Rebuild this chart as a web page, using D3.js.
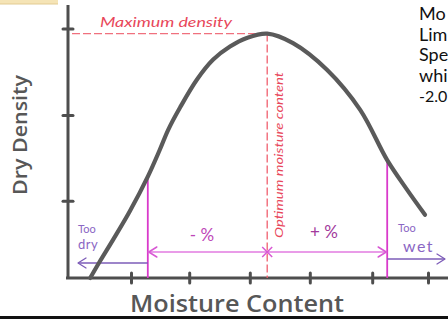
<!DOCTYPE html>
<html>
<head>
<meta charset="utf-8">
<script src="https://cdn.jsdelivr.net/npm/d3@7"></script>
<style>
  html, body { margin: 0; padding: 0; background: #fff; }
  svg { display: block; }
</style>
</head>
<body>
<svg id="chart" width="448" height="320"></svg>
<script>
// Compaction curve: dry density against moisture content (arbitrary units)
const moisture   = [0.37, 0.53, 0.75, 1.03, 1.33, 1.53, 1.67, 1.87, 2.15, 2.42, 2.70, 2.98, 3.32, 3.75, 4.32, 4.87, 5.32, 5.65, 5.95];
const dryDensity = [0.00, 0.19, 0.44, 0.77, 1.17, 1.48, 1.71, 1.97, 2.29, 2.52, 2.67, 2.77, 2.82, 2.71, 2.40, 1.94, 1.36, 1.02, 0.73];

// Unlabelled tick positions on each axis
const xTicks = [1.05, 2.02, 3.03, 4.03, 5.07, 6.0];
const yTicks = [0.89, 1.88, 2.88];

// Key points on the curve
const optimumIndex = 12;   // maximum density / optimum moisture content
const lowerIndex = 4;      // dry-side limit
const upperIndex = 16;     // wet-side limit

// Side text block, running off the right edge
const sideLines = ["Mo", "Lim", "Spe", "whi", "-2.0"];

const svg = d3.select("#chart");
const W = 448, H = 320;

const x = d3.scaleLinear().domain([0, 6]).range([68, 428]);
const y = d3.scaleLinear().domain([0, 3.15]).range([278, 5]);

const axisColor = "#4e4e4e";
const red = "#e8475a";
const magenta = "#d93acb";
const purple = "#8a66c4";

// frame fragment at the top-left corner
svg.append("rect").attr("x", 0).attr("y", 0).attr("width", 58).attr("height", 4)
  .attr("fill", "#f5e4b6");
svg.append("line").attr("x1", 0).attr("x2", 58).attr("y1", 4).attr("y2", 4)
  .attr("stroke", "#e2cb92").attr("stroke-width", 1);

// bottom rule
svg.append("line").attr("x1", 0).attr("x2", W).attr("y1", 317.5).attr("y2", 317.5)
  .attr("stroke", "#111").attr("stroke-width", 3);

// axes
const gx = svg.append("g").attr("transform", `translate(0,${y(0)})`)
  .call(d3.axisBottom(x).tickValues(xTicks).tickSize(6).tickFormat(""));
gx.select(".domain").remove();
gx.selectAll(".tick line").attr("y1", -5).attr("y2", 5)
  .attr("stroke", axisColor).attr("stroke-width", 3).attr("stroke-linecap", "round");
svg.append("line").attr("x1", x(0) - 2).attr("x2", W).attr("y1", y(0)).attr("y2", y(0))
  .attr("stroke", axisColor).attr("stroke-width", 3);

const gy = svg.append("g").attr("transform", `translate(${x(0)},0)`)
  .call(d3.axisLeft(y).tickValues(yTicks).tickSize(6).tickFormat(""));
gy.select(".domain").remove();
gy.selectAll(".tick line").attr("x1", -5).attr("x2", 5)
  .attr("stroke", axisColor).attr("stroke-width", 3).attr("stroke-linecap", "round");
svg.append("line").attr("x1", x(0)).attr("x2", x(0)).attr("y1", y(3.15)).attr("y2", y(0) + 1)
  .attr("stroke", axisColor).attr("stroke-width", 3);

// axis titles
svg.append("text")
  .attr("transform", `translate(27,135) rotate(-90)`)
  .attr("text-anchor", "middle")
  .attr("font-family", "'Open Sans', sans-serif").attr("font-weight", 600)
  .attr("font-size", 20).attr("fill", "#575757")
  .attr("textLength", 120).attr("lengthAdjust", "spacingAndGlyphs")
  .text("Dry Density");

svg.append("text")
  .attr("x", 237).attr("y", 312)
  .attr("text-anchor", "middle")
  .attr("font-family", "'Open Sans', sans-serif").attr("font-weight", 600)
  .attr("font-size", 23).attr("fill", "#575757")
  .attr("textLength", 214).attr("lengthAdjust", "spacingAndGlyphs")
  .text("Moisture Content");

// maximum density guide
const opt = { m: moisture[optimumIndex], d: dryDensity[optimumIndex] };
svg.append("line")
  .attr("x1", x(0) + 4).attr("x2", x(opt.m)).attr("y1", y(opt.d)).attr("y2", y(opt.d))
  .attr("stroke", "#f0707e").attr("stroke-width", 1.3).attr("stroke-dasharray", "8,3");
svg.append("text")
  .attr("x", 100).attr("y", 27)
  .attr("font-family", "Lato, sans-serif").attr("font-style", "italic")
  .attr("font-size", 14).attr("fill", red)
  .attr("textLength", 132).attr("lengthAdjust", "spacingAndGlyphs")
  .text("Maximum density");

// optimum moisture content guide
svg.append("line")
  .attr("x1", x(opt.m)).attr("x2", x(opt.m)).attr("y1", y(opt.d)).attr("y2", y(0))
  .attr("stroke", "#f0606f").attr("stroke-width", 1.3).attr("stroke-dasharray", "8,3");
svg.append("text")
  .attr("transform", `translate(${x(opt.m) + 16},238) rotate(-90)`)
  .attr("font-family", "Lato, sans-serif").attr("font-style", "italic")
  .attr("font-size", 12).attr("fill", red)
  .attr("textLength", 166).attr("lengthAdjust", "spacingAndGlyphs")
  .text("Optimum moisture content");

// acceptable range limits
const lo = { m: moisture[lowerIndex], d: dryDensity[lowerIndex] };
const hi = { m: moisture[upperIndex], d: dryDensity[upperIndex] };
[lo, hi].forEach(p => {
  svg.append("line")
    .attr("x1", x(p.m)).attr("x2", x(p.m)).attr("y1", y(p.d)).attr("y2", y(0))
    .attr("stroke", magenta).attr("stroke-width", 1.8);
});

// range arrow with marker at the optimum
const ay = 252;
svg.append("line").attr("x1", x(lo.m)).attr("x2", x(hi.m)).attr("y1", ay).attr("y2", ay)
  .attr("stroke", "#e27be0").attr("stroke-width", 1.5);
const chevron = (px, py, dir, color, w) => {
  svg.append("path")
    .attr("d", `M${px - dir * 8},${py - 5} L${px},${py} L${px - dir * 8},${py + 5}`)
    .attr("fill", "none").attr("stroke", color).attr("stroke-width", w)
    .attr("stroke-linecap", "round").attr("stroke-linejoin", "round");
};
chevron(x(lo.m) + 1, ay, -1, "#d858d4", 1.5);
chevron(x(hi.m) - 1, ay, 1, "#d858d4", 1.5);
svg.append("path")
  .attr("d", `M${x(opt.m) - 5},${ay - 5} L${x(opt.m) + 5},${ay + 5} M${x(opt.m) - 5},${ay + 5} L${x(opt.m) + 5},${ay - 5}`)
  .attr("stroke", "#d858d4").attr("stroke-width", 1.5);

svg.append("text").attr("x", 202).attr("y", 241).attr("text-anchor", "middle")
  .attr("font-family", "Lato, sans-serif").attr("font-size", 17).attr("fill", "#be47b8")
  .attr("xml:space", "preserve").text("- %");
svg.append("text").attr("x", 324).attr("y", 238).attr("text-anchor", "middle")
  .attr("font-family", "Lato, sans-serif").attr("font-size", 17).attr("fill", "#a23a9c")
  .attr("xml:space", "preserve").text("+ %");

// too dry / too wet
svg.append("text").attr("x", 78).attr("y", 233)
  .attr("font-family", "Lato, sans-serif").attr("font-size", 11).attr("fill", purple).text("Too");
svg.append("text").attr("x", 78).attr("y", 249)
  .attr("font-family", "Lato, sans-serif").attr("font-size", 13).attr("fill", purple)
  .attr("letter-spacing", 0.5).text("dry");
svg.append("line").attr("x1", 78).attr("x2", x(lo.m)).attr("y1", 263).attr("y2", 263)
  .attr("stroke", "#7d5cb8").attr("stroke-width", 1.3);
chevron(78, 263, -1, "#7d5cb8", 1.3);

svg.append("text").attr("x", 398).attr("y", 232)
  .attr("font-family", "Lato, sans-serif").attr("font-size", 11).attr("fill", purple).text("Too");
svg.append("text").attr("x", 403).attr("y", 252)
  .attr("font-family", "Lato, sans-serif").attr("font-size", 16).attr("fill", purple)
  .attr("letter-spacing", 1.5).text("wet");
svg.append("line").attr("x1", x(hi.m)).attr("x2", 445).attr("y1", 259).attr("y2", 259)
  .attr("stroke", "#7d5cb8").attr("stroke-width", 1.3);
chevron(445, 259, 1, "#7d5cb8", 1.3);

// compaction curve
const pts = moisture.map((m, i) => [m, dryDensity[i]]);
svg.append("path")
  .datum(pts)
  .attr("d", d3.line().x(d => x(d[0])).y(d => y(d[1])).curve(d3.curveCatmullRom.alpha(0.5)))
  .attr("fill", "none").attr("stroke", "#5a5a5a").attr("stroke-width", 4.2)
  .attr("stroke-linecap", "round");

// side text
svg.append("g").selectAll("text").data(sideLines).join("text")
  .attr("x", 419).attr("y", (d, i) => 20 + i * 20.6)
  .attr("font-family", "Lato, sans-serif")
  .attr("font-size", d => d.length > 3 ? 16 : 18)
  .attr("fill", "#111")
  .text(d => d);
</script>
</body>
</html>
